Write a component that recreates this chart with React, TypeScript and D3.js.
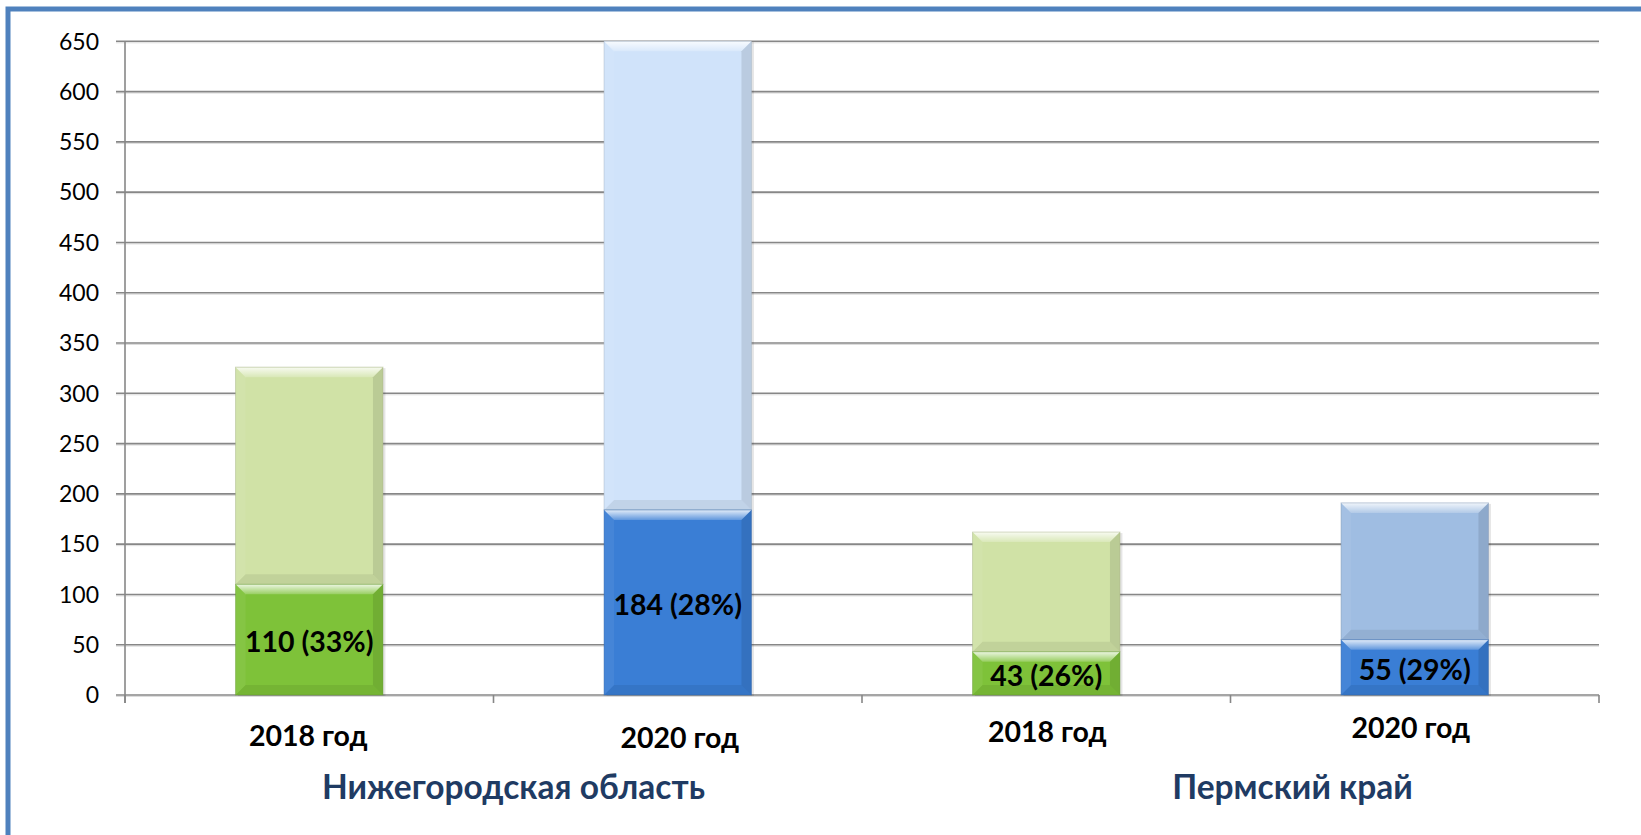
import React from "react";
import * as d3 from "d3";

const categories = ["2018 год", "2020 год", "2018 год", "2020 год"];
const groups = ["Нижегородская область", "Пермский край"];
const baseValues = [110, 184, 43, 55];
const restValues = [216, 466, 119, 136];
const dataLabels = ["110 (33%)", "184 (28%)", "43 (26%)", "55 (29%)"];
const yTicks = [0, 50, 100, 150, 200, 250, 300, 350, 400, 450, 500, 550, 600, 650];

const baseColors = ["#7EC239", "#3A7ED5", "#7EC239", "#3A7ED5"];
const restColors = ["#D0E2A6", "#D0E3FA", "#D0E2A6", "#9FBDE2"];

// layout
const W = 1641;
const H = 835;
const X0 = 125;
const X1 = 1599;
const Y0 = 695;
const Y1 = 41.3;
const catDy = [746, 748, 742, 738];
const catDx = [-1, 2, 1, -4];
const groupDx = [20, 62];

const FONT = "Lato, 'Open Sans', sans-serif";

function Bevel({ x, y, w, h, fill }: { x: number; y: number; w: number; h: number; fill: string }) {
  const b = Math.min(10, h / 2, w / 2);
  const dark = d3.color(fill)!.darker(0.7).formatHex();
  return (
    <g>
      <rect x={x + 2.5} y={y + 1} width={w} height={h} fill="#000" opacity={0.1} />
      <rect x={x} y={y} width={w} height={h} fill={fill} />
      <polygon
        points={`${x},${y} ${x + w},${y} ${x + w - b},${y + b} ${x + b},${y + b}`}
        fill="url(#topBevel)"
      />
      <polygon
        points={`${x},${y} ${x + b},${y + b} ${x + b},${y + h - b} ${x},${y + h}`}
        fill="#fff"
        opacity={0.06}
      />
      <polygon
        points={`${x + w},${y} ${x + w - b},${y + b} ${x + w - b},${y + h - b} ${x + w},${y + h}`}
        fill="#000"
        opacity={0.1}
      />
      <polygon
        points={`${x},${y + h} ${x + b},${y + h - b} ${x + w - b},${y + h - b} ${x + w},${y + h}`}
        fill="#000"
        opacity={0.07}
      />
      <rect x={x} y={y} width={w} height={h} fill="none" stroke={dark} strokeWidth={1} opacity={0.45} />
    </g>
  );
}

export default function App() {
  const x = d3
    .scaleBand<number>()
    .domain(d3.range(categories.length))
    .range([X0, X1])
    .paddingInner(0.6)
    .paddingOuter(0.3);
  const band = (X1 - X0) / categories.length;
  const y = d3.scaleLinear().domain([0, 650]).range([Y0, Y1]);
  const bw = x.bandwidth();

  return (
    <div style={{ position: "absolute", left: 0, top: 0, width: W, height: H, background: "#fff" }}>
      <svg width={W} height={H} style={{ display: "block" }}>
        <defs>
          <linearGradient id="topBevel" x1="0" y1="0" x2="0" y2="1">
            <stop offset="0" stopColor="#fff" stopOpacity={0.85} />
            <stop offset="1" stopColor="#fff" stopOpacity={0.2} />
          </linearGradient>
        </defs>
        <rect x={0} y={0} width={W} height={H} fill="#fff" />
        {/* frame */}
        <rect x={8} y={9} width={W + 50} height={H + 50} fill="none" stroke="#4F81BD" strokeWidth={5} />

        {/* gridlines */}
        {yTicks.map((t) => (
          <g key={t}>
            <line x1={116} x2={X1} y1={y(t) + 1.5} y2={y(t) + 1.5} stroke="#dcdcdc" strokeWidth={1} />
            <line x1={116} x2={X1} y1={y(t)} y2={y(t)} stroke="#878787" strokeWidth={1.6} />
            <text x={99} y={y(t)} dy="0.36em" textAnchor="end" fontFamily={FONT} fontSize={23} fill="#000">
              {t}
            </text>
          </g>
        ))}
        {/* y axis */}
        <line x1={X0} x2={X0} y1={Y1} y2={Y0 + 8} stroke="#878787" strokeWidth={1.6} />
        {/* category ticks */}
        {d3.range(categories.length + 1).map((i) => (
          <line
            key={i}
            x1={X0 + i * band}
            x2={X0 + i * band}
            y1={Y0}
            y2={Y0 + 8}
            stroke="#878787"
            strokeWidth={1.6}
          />
        ))}

        {/* bars */}
        {categories.map((c, i) => {
          const bx = x(i)!;
          const yb = y(baseValues[i]);
          const yt = y(baseValues[i] + restValues[i]);
          return (
            <g key={i}>
              <Bevel x={bx} y={yt} w={bw} h={yb - yt} fill={restColors[i]} />
              <Bevel x={bx} y={yb} w={bw} h={Y0 - yb} fill={baseColors[i]} />
              <text
                x={bx + bw / 2}
                y={(yb + Y0) / 2 + (i >= 2 ? 2 : 2)}
                dy="0.36em"
                textAnchor="middle"
                fontFamily={FONT}
                fontWeight="bold"
                fontSize={28.5}
                fill="#000"
              >
                {dataLabels[i]}
              </text>
              <text
                x={bx + bw / 2 + catDx[i]}
                y={catDy[i]}
                textAnchor="middle"
                fontFamily={FONT}
                fontWeight="bold"
                fontSize={28.5}
                fill="#000"
              >
                {c}
              </text>
            </g>
          );
        })}

        {/* group labels */}
        {groups.map((g, gi) => (
          <text
            key={g}
            x={X0 + band * (gi * 2 + 1) + groupDx[gi]}
            y={798.5}
            textAnchor="middle"
            fontFamily={FONT}
            fontWeight="bold"
            fontSize={33.5}
            fill="#1F3B63"
          >
            {g}
          </text>
        ))}
      </svg>
    </div>
  );
}
